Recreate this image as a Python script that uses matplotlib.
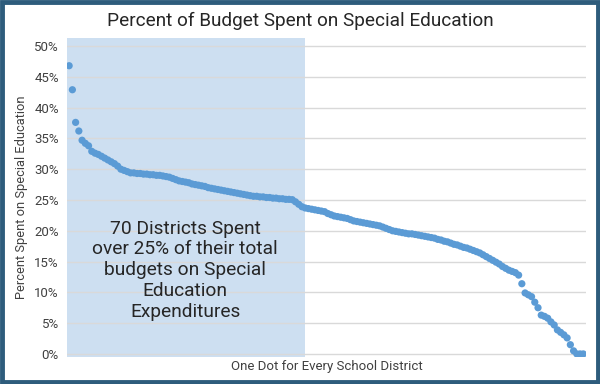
import matplotlib
matplotlib.use('Agg')
import matplotlib.pyplot as plt
from matplotlib.patches import Rectangle
from matplotlib.ticker import PercentFormatter

# percent of budget spent on special education, one value per district (sorted)
pct_spent = [
    46.8, 42.9, 37.6, 36.2, 34.7, 34.2, 33.8, 32.9, 32.6, 32.4,
    32.1, 31.8, 31.5, 31.2, 30.9, 30.5, 30.0, 29.8, 29.6, 29.4,
    29.4, 29.3, 29.3, 29.2, 29.2, 29.1, 29.1, 29.0, 29.0, 28.9,
    28.8, 28.7, 28.5, 28.3, 28.1, 28.0, 27.9, 27.8, 27.6, 27.5,
    27.4, 27.3, 27.2, 27.0, 26.9, 26.8, 26.7, 26.6, 26.5, 26.4,
    26.3, 26.2, 26.1, 26.0, 25.9, 25.8, 25.7, 25.6, 25.6, 25.5,
    25.5, 25.4, 25.4, 25.3, 25.3, 25.2, 25.2, 25.1, 25.1, 25.05,
    24.7, 24.3, 23.9, 23.7, 23.6, 23.5, 23.4, 23.3, 23.2, 23.1,
    22.8, 22.6, 22.4, 22.3, 22.2, 22.1, 22.0, 21.8, 21.6, 21.5,
    21.4, 21.3, 21.2, 21.1, 21.0, 20.9, 20.8, 20.6, 20.4, 20.2,
    20.0, 19.9, 19.8, 19.7, 19.6, 19.5, 19.5, 19.4, 19.3, 19.2,
    19.1, 19.0, 18.9, 18.8, 18.6, 18.5, 18.3, 18.2, 18.0, 17.8,
    17.7, 17.5, 17.3, 17.2, 17.0, 16.8, 16.6, 16.4, 16.1, 15.8,
    15.5, 15.2, 14.9, 14.6, 14.2, 13.9, 13.6, 13.4, 13.2, 12.8,
    11.4, 9.9, 9.6, 9.3, 8.4, 7.5, 6.3, 6.1, 5.8, 5.2,
    4.7, 3.9, 3.5, 3.1, 2.6, 1.5, 0.5, 0.0, 0.0, 0.0,
]
district = list(range(1, len(pct_spent) + 1))
y_ticks = [0, 5, 10, 15, 20, 25, 30, 35, 40, 45, 50]
note = ('70 Districts Spent\nover 25% of their total\nbudgets on Special\n'
        'Education\nExpenditures')

plt.rcParams['font.family'] = ['Roboto', 'DejaVu Sans']
text_color = '#404040'

fig = plt.figure(figsize=(6, 3.84), dpi=100)
ax = fig.add_axes([0.112, 0.0703, 0.865, 0.8307])

ax.axvspan(0.4, 74, color='#cddff1', zorder=0.2, lw=0)
ax.scatter(district, pct_spent, s=27, color='#5b9bd5', edgecolors='none',
           zorder=3)

ax.set_xlim(0.4, 160.9)
ax.set_ylim(-0.5, 51.3)
ax.set_yticks(y_ticks)
ax.yaxis.set_major_formatter(PercentFormatter(decimals=0))
ax.set_xticks([])
ax.tick_params(axis='y', length=0, pad=6, labelsize=9.5, labelcolor=text_color)
ax.yaxis.grid(True, color='#d9d9d9', lw=1)
ax.set_axisbelow(True)
for s in ax.spines.values():
    s.set_visible(False)

ax.set_ylabel('Percent Spent on Special Education', fontsize=9.3,
              color=text_color)
ax.yaxis.set_label_coords(-0.076, 0.5)
ax.set_xlabel('One Dot for Every School District', fontsize=9.5,
              color=text_color)
ax.xaxis.set_label_coords(0.5, -0.008)

ax.text(36.9, 13.6, note, ha='center', va='center', fontsize=13.8,
        color='#262626', linespacing=1.2, zorder=4)

fig.text(0.5, 0.945, 'Percent of Budget Spent on Special Education',
         ha='center', va='center', fontsize=13.7, color='#262626')

# dark frame around the whole picture
fig.patches.append(Rectangle((0.003, 0.005), 0.994, 0.99,
                             transform=fig.transFigure, fill=False,
                             edgecolor='#2e5c7c', lw=3.5))

fig.savefig('out.png', dpi=100)
